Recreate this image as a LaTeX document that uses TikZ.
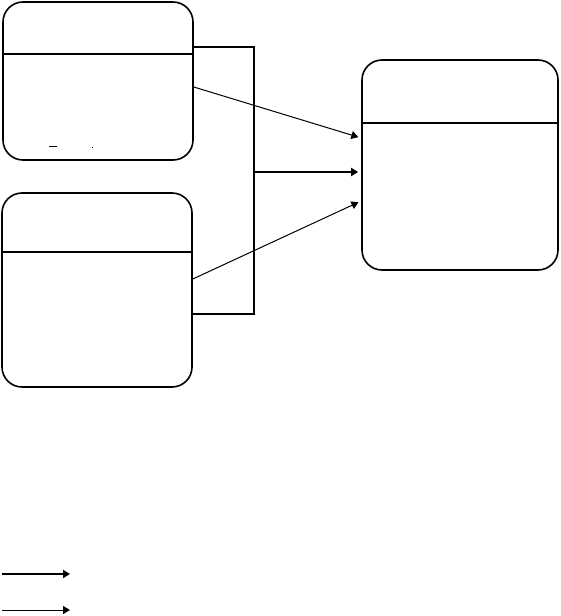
\documentclass[tikz,border=0pt]{standalone}
\usetikzlibrary{arrows.meta}
\tikzset{
  flow/.style={-{Triangle[length=7pt,width=8pt]},line width=1pt,shorten >=3pt},
  flowthick/.style={flow,line width=2.6pt},
  bracket/.style={line width=1.6pt},
  card/.style={draw,line width=1.6pt,rounded corners=20pt,inner sep=0pt},
  header/.style={line width=1.6pt},
}
\begin{document}
\begin{tikzpicture}[x=1pt,y=-1pt]
  \useasboundingbox (0,0) rectangle (560,616);

  \node[card,minimum width=190pt,minimum height=158pt] (src) at (98,81) {};
  \node[card,minimum width=190pt,minimum height=194pt] (aux) at (97,290) {};
  \node[card,minimum width=196pt,minimum height=210pt] (dst) at (460,165) {};

  \draw[header] ([yshift=-53pt]src.north west) -- ([yshift=-53pt]src.north east);
  \draw[header] ([yshift=-60pt]aux.north west) -- ([yshift=-60pt]aux.north east);
  \draw[header] ([yshift=-64pt]dst.north west) -- ([yshift=-64pt]dst.north east);

  % stray marks inside the first card
  \draw[line width=1pt] (49,146) -- (57,146);
  \draw[line width=1pt] (91.5,147) -- (92.5,147);

  \coordinate (join) at (254,172);
  \draw[bracket] ([yshift=34pt]src.east) -| (join) |- ([yshift=-24pt]aux.east);
  \draw[flowthick] (join) -- (dst.west |- join);
  \draw[flow] ([yshift=-6pt]src.east) -- ([yshift=27pt]dst.west);
  \draw[flow] ([yshift=11pt]aux.east) -- ([yshift=-36pt]dst.west);

  % key
  \coordinate (keyA) at (2,574);
  \coordinate (keyB) at (2,610);
  \draw[flowthick,shorten >=0pt] (keyA) -- ++(68,0);
  \draw[flow,shorten >=0pt] (keyB) -- ++(68,0);
\end{tikzpicture}
\end{document}
